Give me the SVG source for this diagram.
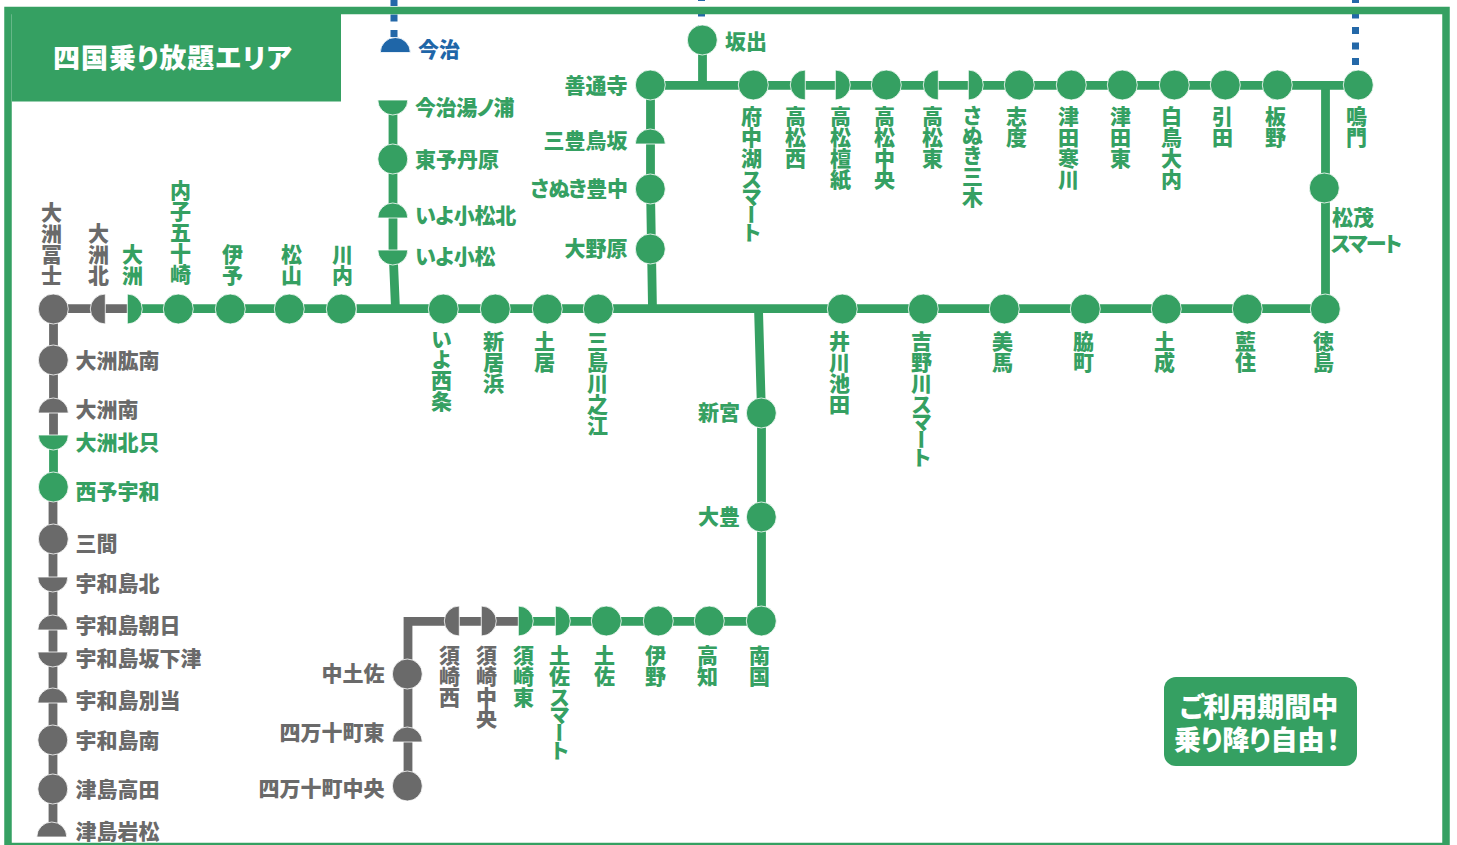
<svg xmlns="http://www.w3.org/2000/svg" width="1457" height="845" viewBox="0 0 1457 845">
<style>
text{font-family:"Noto Sans CJK JP","Noto Sans",sans-serif;font-weight:900;font-size:21px;font-feature-settings:"palt"}
.v{writing-mode:vertical-rl;text-orientation:upright;font-feature-settings:"vpal";transform:translate(0,-1px)}
.k{letter-spacing:-1.8px}
.e{text-anchor:end}
.G{fill:#35a062}.A{fill:#6a6a6a}.B{fill:#1f66a8}
use{stroke:#fff;stroke-width:.8;transform:translate(-.2px,-.5px)}
.lg,.la,.lb{fill:none;stroke-width:8.800}
.lg{stroke:#35a062}.la{stroke:#6a6a6a}.lb{stroke:#2468a8;stroke-width:7;stroke-dasharray:7 8.5}
.w{fill:#fff;font-size:27px}
</style>
<defs>
<circle id="c" r="15"/>
<path id="hT" d="M-15 0A15 15 0 0 1 15 0Z"/>
<path id="hB" d="M-15 0A15 15 0 0 0 15 0Z"/>
<path id="hL" d="M0 -15A15 15 0 0 0 0 15Z"/>
<path id="hR" d="M0 -15A15 15 0 0 1 0 15Z"/>
</defs>
<g id="connectors">
<path class="lb" d="M394 -1V38"/>
<path class="lb" d="M701.500 -6V30"/>
<path class="lb" d="M1355.500 -4V70"/>
<path class="la" d="M53.500 308.700H127"/>
<path class="la" d="M53.500 308.700V435"/>
<path class="lg" d="M53.500 435V487"/>
<path class="la" d="M53 487V837"/>
<path class="lg" d="M127 308.700H341"/>
<path class="lg" d="M356.500 308.700H1325.500V85"/>
<path class="lg" d="M393 100V250L395.500 309"/>
<path class="lg" d="M652.500 309L650.500 189V85.300H1358"/>
<path class="lg" d="M702.500 40V85"/>
<path class="lg" d="M758.500 309L761.500 413V621.300H518"/>
<path class="la" d="M518 621.300H408V674" stroke-width="8"/>
<path class="la" d="M408 674V786"/>
</g>
<g id="frame">
<rect x="8" y="10.500" width="1438" height="836" fill="none" stroke="#35a062" stroke-width="7.500"/>
<rect x="12" y="14" width="329" height="87.500" fill="#35a062"/>
<text class="w" x="53" y="68" letter-spacing="1">四国乗り放題エリア</text>
</g>
<g id="badge">
<rect x="1164" y="677" width="193" height="89" rx="12" fill="#35a062"/>
<text class="w" x="1259" y="717" text-anchor="middle">ご利用期間中</text>
<text class="w" x="1174" y="750">乗り降り自由<tspan dx="2">！</tspan></text>
</g>
<g id="stations" transform="translate(.5 .5)">
<g id="n-ozufuji"><use href="#c" x="53" y="309" class="A"/><text class="v A" x="51" y="202">大洲冨士</text></g>
<g id="n-ozukita"><use href="#hL" x="105" y="309" class="A"/><text class="v A" x="98" y="223">大洲北</text></g>
<g id="n-ozu"><use href="#hR" x="127" y="309" class="G"/><text class="v G" x="132" y="244">大洲</text></g>
<g id="n-uchiko"><use href="#c" x="178" y="309" class="G"/><text class="v G" x="180" y="180">内子五十崎</text></g>
<g id="n-iyo"><use href="#c" x="230" y="309" class="G"/><text class="v G" x="232" y="244">伊予</text></g>
<g id="n-matsuyama"><use href="#c" x="289" y="309" class="G"/><text class="v G" x="291" y="244">松山</text></g>
<g id="n-kawauchi"><use href="#c" x="341" y="309" class="G"/><text class="v G" x="342" y="244">川内</text></g>
<g id="n-ozuhiji"><use href="#c" x="53" y="360" class="A"/><text class="A" x="75" y="367.500">大洲肱南</text></g>
<g id="n-ozuminami"><use href="#hT" x="53" y="413" class="A"/><text class="A" x="75" y="416.500">大洲南</text></g>
<g id="n-ozukitatada"><use href="#hB" x="53" y="435" class="G"/><text class="G" x="75" y="449.500">大洲北只</text></g>
<g id="n-seiyouwa"><use href="#c" x="53" y="487" class="G"/><text class="G" x="75" y="498.500">西予宇和</text></g>
<g id="n-mima"><use href="#c" x="53" y="539" class="A"/><text class="A" x="75" y="550.500">三間</text></g>
<g id="n-uwakita"><use href="#hB" x="52.500" y="577" class="A"/><text class="A" x="75" y="590.500">宇和島北</text></g>
<g id="n-uwaasahi"><use href="#hT" x="52.500" y="630" class="A"/><text class="A" x="75" y="632.500">宇和島朝日</text></g>
<g id="n-uwasaka"><use href="#hB" x="52.500" y="652" class="A"/><text class="A" x="75" y="665.500">宇和島坂下津</text></g>
<g id="n-uwabetto"><use href="#hT" x="52.500" y="703" class="A"/><text class="A" x="75" y="707.500">宇和島別当</text></g>
<g id="n-uwaminami"><use href="#c" x="52.500" y="740" class="A"/><text class="A" x="75" y="747.500">宇和島南</text></g>
<g id="n-takada"><use href="#c" x="52.500" y="789" class="A"/><text class="A" x="75" y="796.500">津島高田</text></g>
<g id="n-iwamatsu"><use href="#hT" x="51.500" y="837" class="A"/><text class="A" x="75" y="838.500">津島岩松</text></g>
<g id="n-imabari"><use href="#hT" x="395" y="52.500" class="B"/><text class="B" x="417.500" y="56.500">今治</text></g>
<g id="n-yunoura"><use href="#hB" x="392.500" y="100" class="G"/><text class="G" x="414.500" y="114.500" letter-spacing="-.4">今治湯ノ浦</text></g>
<g id="n-tanbara"><use href="#c" x="392.500" y="159" class="G"/><text class="G" x="414.500" y="166.500">東予丹原</text></g>
<g id="n-komatsukita"><use href="#hT" x="392.500" y="218" class="G"/><text class="G" x="414.500" y="222.500" letter-spacing="-.2">いよ小松北</text></g>
<g id="n-komatsu"><use href="#hB" x="392.500" y="250" class="G"/><text class="G" x="414.500" y="263.500" letter-spacing="-.2">いよ小松</text></g>
<g id="n-saijo"><use href="#c" x="443" y="309" class="G"/><text class="v G" x="441" y="331">いよ西条</text></g>
<g id="n-niihama"><use href="#c" x="495" y="309" class="G"/><text class="v G" x="493" y="331">新居浜</text></g>
<g id="n-doi"><use href="#c" x="547" y="309" class="G"/><text class="v G" x="544" y="331">土居</text></g>
<g id="n-mishima"><use href="#c" x="598" y="309" class="G"/><text class="v G" x="597" y="331">三島川之江</text></g>
<g id="n-zentsuji"><use href="#c" x="650" y="85" class="G"/><text class="e G" x="627" y="92.500">善通寺</text></g>
<g id="n-torisaka"><use href="#hT" x="650" y="144" class="G"/><text class="e G" x="627" y="147.500">三豊鳥坂</text></g>
<g id="n-toyonaka"><use href="#c" x="650" y="189" class="G"/><text class="e G" x="627" y="195.500" letter-spacing="-.4">さぬき豊中</text></g>
<g id="n-onohara"><use href="#c" x="650" y="249" class="G"/><text class="e G" x="627" y="255.500">大野原</text></g>
<g id="n-sakaide"><use href="#c" x="702" y="40" class="G"/><text class="G" x="724.500" y="48.500">坂出</text></g>
<g id="n-funakoshi"><use href="#c" x="753" y="85" class="G"/><text class="v G" x="751" y="106">府中湖<tspan class="k">スマート</tspan></text></g>
<g id="n-takamatsunishi"><use href="#hL" x="805" y="85" class="G"/><text class="v G" x="795" y="106">高松西</text></g>
<g id="n-danshi"><use href="#hR" x="835" y="85" class="G"/><text class="v G" x="840" y="106">高松檀紙</text></g>
<g id="n-chuo"><use href="#c" x="886" y="85" class="G"/><text class="v G" x="884" y="106">高松中央</text></g>
<g id="n-higashi"><use href="#hL" x="938" y="85" class="G"/><text class="v G" x="932" y="106">高松東</text></g>
<g id="n-miki"><use href="#hR" x="968" y="85" class="G"/><text class="v G" x="972" y="106">さぬき三木</text></g>
<g id="n-shido"><use href="#c" x="1019" y="85" class="G"/><text class="v G" x="1016" y="106">志度</text></g>
<g id="n-sangawa"><use href="#c" x="1071" y="85" class="G"/><text class="v G" x="1068" y="106">津田寒川</text></g>
<g id="n-tsudahigashi"><use href="#c" x="1122" y="85" class="G"/><text class="v G" x="1120" y="106">津田東</text></g>
<g id="n-shirotori"><use href="#c" x="1174" y="85" class="G"/><text class="v G" x="1171" y="106">白鳥大内</text></g>
<g id="n-hiketa"><use href="#c" x="1225" y="85" class="G"/><text class="v G" x="1222" y="106">引田</text></g>
<g id="n-itano"><use href="#c" x="1277" y="85" class="G"/><text class="v G" x="1275" y="106">板野</text></g>
<g id="n-naruto"><use href="#c" x="1358" y="85" class="G"/><text class="v G" x="1356" y="106">鳴門</text></g>
<g id="n-matsushige"><use href="#c" x="1324" y="188" class="G"/><text class="G" x="1331.500" y="224.500">松茂</text><text class="G k" x="1330.500" y="250.500">スマート</text></g>
<g id="n-ikawa"><use href="#c" x="842" y="309" class="G"/><text class="v G" x="839" y="331">井川池田</text></g>
<g id="n-yoshinogawa"><use href="#c" x="923" y="309" class="G"/><text class="v G" x="921" y="331">吉野川<tspan class="k">スマート</tspan></text></g>
<g id="n-mimac"><use href="#c" x="1004" y="309" class="G"/><text class="v G" x="1002" y="331">美馬</text></g>
<g id="n-waki"><use href="#c" x="1085" y="309" class="G"/><text class="v G" x="1083" y="331">脇町</text></g>
<g id="n-donari"><use href="#c" x="1166" y="309" class="G"/><text class="v G" x="1164" y="331">土成</text></g>
<g id="n-aizumi"><use href="#c" x="1247" y="309" class="G"/><text class="v G" x="1245" y="331">藍住</text></g>
<g id="n-tokushima"><use href="#c" x="1325" y="309" class="G"/><text class="v G" x="1323" y="331">徳島</text></g>
<g id="n-shingu"><use href="#c" x="761" y="413" class="G"/><text class="e G" x="739.500" y="419.500">新宮</text></g>
<g id="n-otoyo"><use href="#c" x="761" y="517" class="G"/><text class="e G" x="739.500" y="523.500">大豊</text></g>
<g id="n-nankoku"><use href="#c" x="761" y="621" class="G"/><text class="v G" x="759" y="645">南国</text></g>
<g id="n-kochi"><use href="#c" x="709" y="621" class="G"/><text class="v G" x="707" y="645">高知</text></g>
<g id="n-ino"><use href="#c" x="658" y="621" class="G"/><text class="v G" x="655" y="645">伊野</text></g>
<g id="n-tosa"><use href="#c" x="606" y="621" class="G"/><text class="v G" x="604" y="645">土佐</text></g>
<g id="n-tosasmart"><use href="#hR" x="555" y="621" class="G"/><text class="v G" x="559" y="645">土佐<tspan class="k">スマート</tspan></text></g>
<g id="n-susakihigashi"><use href="#hR" x="518" y="621" class="G"/><text class="v G" x="523" y="645">須崎東</text></g>
<g id="n-susakichuo"><use href="#hR" x="481" y="621" class="A"/><text class="v A" x="486" y="645">須崎中央</text></g>
<g id="n-susakinishi"><use href="#hL" x="459" y="621" class="A"/><text class="v A" x="449" y="645">須崎西</text></g>
<g id="n-nakatosa"><use href="#c" x="407" y="674" class="A"/><text class="e A" x="384" y="680.500">中土佐</text></g>
<g id="n-shimantohigashi"><use href="#hT" x="407" y="742" class="A"/><text class="e A" x="384" y="739.500">四万十町東</text></g>
<g id="n-shimantochuo"><use href="#c" x="407" y="786" class="A"/><text class="e A" x="384" y="795.500">四万十町中央</text></g>
</g>
</svg>
